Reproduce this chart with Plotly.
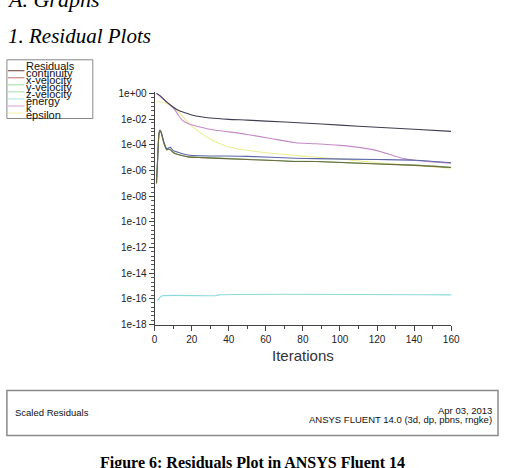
import plotly.graph_objects as go

W, H = 508, 468

# ---------------- data ----------------
series_names = ["continuity", "x-velocity", "y-velocity", "z-velocity", "energy", "k", "epsilon"]

it_cont = [1, 3, 6, 9, 12, 16, 20, 25, 30, 40, 50, 60, 80, 100, 120, 140, 160]
continuity = [1.0e0, 6.3e-1, 2.5e-1, 1.1e-1, 5.6e-2, 3.2e-2, 2.1e-2, 1.5e-2, 1.2e-2, 9.5e-3,
              8.3e-3, 6.9e-3, 5.0e-3, 3.4e-3, 2.3e-3, 1.6e-3, 1.1e-3]

it_k = [1, 3, 6, 9, 11, 13, 15, 19, 24, 32, 40, 50, 62, 76, 87, 100, 111, 120, 129, 135, 141, 150, 160]
k_res = [9.5e-1, 6.0e-1, 2.4e-1, 1.05e-1, 5.0e-2, 1.8e-2, 8.0e-3, 4.0e-3, 2.5e-3, 1.4e-3, 1.0e-3,
         6.3e-4, 3.2e-4, 1.45e-4, 1.2e-4, 8.9e-5, 6.0e-5, 3.5e-5, 1.4e-5, 8.0e-6, 5.9e-6, 4.6e-6, 3.7e-6]

it_eps = [1, 4, 6, 9, 12, 15, 19, 24, 30, 40, 50, 60, 80, 100, 120, 140, 160]
epsilon = [2.2e-1, 2.1e-1, 1.8e-1, 1.0e-1, 4.5e-2, 1.7e-2, 4.0e-3, 1.0e-3, 2.8e-4, 6.8e-5,
           3.7e-5, 2.4e-5, 1.3e-5, 7.9e-6, 4.0e-6, 2.5e-6, 1.5e-6]

it_vel = [1, 1.5, 2.3, 2.8, 3.5, 5, 6.5, 7.5, 8.5, 10, 12, 15, 18, 25, 50, 76, 87, 120, 141, 160]
z_velocity = [1.0e-7, 3.2e-6, 6.3e-4, 1.4e-3, 1.0e-3, 1.6e-4, 5.0e-5, 5.6e-5, 6.3e-5, 3.5e-5,
              2.8e-5, 2.0e-5, 1.6e-5, 1.4e-5, 1.26e-5, 8.9e-6, 8.3e-6, 7.1e-6, 6.3e-6, 4.0e-6]
x_velocity = [1.0e-7, 3.2e-6, 6.3e-4, 1.3e-3, 9.0e-4, 1.3e-4, 4.0e-5, 4.5e-5, 4.0e-5, 2.5e-5,
              1.8e-5, 1.4e-5, 1.15e-5, 1.0e-5, 7.1e-6, 5.0e-6, 5.0e-6, 3.2e-6, 2.5e-6, 1.7e-6]
y_velocity = [1.0e-7, 3.0e-6, 6.0e-4, 1.3e-3, 9.5e-4, 1.4e-4, 4.2e-5, 4.6e-5, 4.2e-5, 2.6e-5,
              1.9e-5, 1.45e-5, 1.2e-5, 1.05e-5, 7.4e-6, 5.2e-6, 5.0e-6, 3.3e-6, 2.6e-6, 1.8e-6]

it_en = [1, 2, 3, 4.4, 33, 35, 160]
energy = [8.0e-17, 9.0e-17, 1.4e-16, 1.8e-16, 1.8e-16, 2.1e-16, 2.1e-16]

y_tick_vals = [1e0, 1e-2, 1e-4, 1e-6, 1e-8, 1e-10, 1e-12, 1e-14, 1e-16, 1e-18]
y_tick_text = ["1e+00", "1e-02", "1e-04", "1e-06", "1e-08", "1e-10", "1e-12", "1e-14", "1e-16", "1e-18"]
x_tick_vals = [0, 20, 40, 60, 80, 100, 120, 140, 160]

colors = {
    "continuity": "#3e3e52",
    "x-velocity": "#6e6a3e",
    "y-velocity": "#86c486",
    "z-velocity": "#5a66a6",
    "energy": "#8adada",
    "k": "#c48ac8",
    "epsilon": "#ecec96",
}
legend_colors = {
    "continuity": "#6b3a30",
    "x-velocity": "#c07070",
    "y-velocity": "#a0d8a0",
    "z-velocity": "#a8d8b0",
    "energy": "#a8e6e6",
    "k": "#d8a0d8",
    "epsilon": "#f0f0a8",
}


def px(x):
    return x / W


def py(y):
    return 1 - y / H


fig = go.Figure()

traces = [
    ("energy", it_en, energy),
    ("epsilon", it_eps, epsilon),
    ("k", it_k, k_res),
    ("continuity", it_cont, continuity),
    ("y-velocity", it_vel, y_velocity),
    ("z-velocity", it_vel, z_velocity),
    ("x-velocity", it_vel, x_velocity),
]
for name, xs, ys in traces:
    fig.add_trace(go.Scatter(x=xs, y=ys, mode="lines", name=name,
                             line=dict(color=colors[name], width=1.1, shape="spline", smoothing=0.6),
                             showlegend=False, hoverinfo="skip"))

# minor ticks on log axis
minor_y = []
for e in range(-18, 1):
    for m in (2, 5):
        v = m * 10.0 ** e
        if v <= 1.2:
            minor_y.append(v)
    if e % 2 != 0:
        minor_y.append(10.0 ** e)

fig.update_layout(
    width=W, height=H,
    margin=dict(l=0, r=0, t=0, b=0),
    paper_bgcolor="white", plot_bgcolor="white",
    xaxis=dict(
        domain=[px(155.3), px(459)], range=[0, 160],
        tickvals=x_tick_vals, ticks="outside", ticklen=5, tickcolor="#444", tickwidth=1,
        showline=True, linecolor="#444", linewidth=1, showgrid=False, zeroline=False,
        tickfont=dict(family="Arial, Liberation Sans", size=10, color="#222"),
        minor=dict(tickvals=[10, 30, 50, 70, 90, 110, 130, 150], ticks="outside", ticklen=3,
                   tickcolor="#444", showgrid=False),
        title=dict(text="Iterations", font=dict(family="Arial, Liberation Sans", size=15, color="#333"),
                   standoff=6),
    ),
    yaxis=dict(
        type="log", domain=[py(327.7), py(90)], range=[-18, 0.1],
        tickvals=y_tick_vals, ticktext=y_tick_text, ticks="outside", ticklen=5, tickcolor="#444",
        showline=True, linecolor="#444", linewidth=1, showgrid=False, zeroline=False,
        tickfont=dict(family="Arial, Liberation Sans", size=10, color="#222"),
        minor=dict(tickvals=minor_y, ticks="outside", ticklen=3, tickcolor="#555", showgrid=False),
    ),
)

shapes = []
annotations = []

# legend box
shapes.append(dict(type="rect", xref="paper", yref="paper", x0=px(4), x1=px(92), y0=py(117), y1=py(57),
                   line=dict(color="#888", width=1), fillcolor="rgba(0,0,0,0)"))
rows = ["Residuals"] + series_names
for i, name in enumerate(rows):
    yc = 63.5 + 7.2 * i
    annotations.append(dict(xref="paper", yref="paper", x=px(22), y=py(yc), xanchor="left", yanchor="middle",
                            text=name, showarrow=False,
                            font=dict(family="Arial, Liberation Sans", size=11, color="#111")))
    if name in legend_colors:
        shapes.append(dict(type="line", xref="paper", yref="paper", x0=px(5), x1=px(22),
                           y0=py(yc - 2.5), y1=py(yc - 2.5),
                           line=dict(color=legend_colors[name], width=1)))

# bottom info box
shapes.append(dict(type="rect", xref="paper", yref="paper", x0=px(4), x1=px(507), y0=py(441), y1=py(395),
                   line=dict(color="#8a8a8a", width=1.5), fillcolor="rgba(0,0,0,0)"))
annotations.append(dict(xref="paper", yref="paper", x=px(10), y=py(417), xanchor="left", yanchor="middle",
                        text="Scaled Residuals", showarrow=False,
                        font=dict(family="Arial, Liberation Sans", size=9.5, color="#111")))
annotations.append(dict(xref="paper", yref="paper", x=px(503), y=py(415.5), xanchor="right", yanchor="middle",
                        text="Apr 03, 2013", showarrow=False,
                        font=dict(family="Arial, Liberation Sans", size=9.5, color="#111")))
annotations.append(dict(xref="paper", yref="paper", x=px(503), y=py(425), xanchor="right", yanchor="middle",
                        text="ANSYS FLUENT 14.0 (3d, dp, pbns, rngke)", showarrow=False,
                        font=dict(family="Arial, Liberation Sans", size=9.5, color="#111")))

# document text around the figure
annotations.append(dict(xref="paper", yref="paper", x=px(2), y=py(-5), xanchor="left", yanchor="middle",
                        text="<i>A. Graphs</i>", showarrow=False,
                        font=dict(family="Liberation Serif, Times New Roman", size=22, color="#000")))
annotations.append(dict(xref="paper", yref="paper", x=px(3), y=py(33), xanchor="left", yanchor="middle",
                        text="<i>1. Residual Plots</i>", showarrow=False,
                        font=dict(family="Liberation Serif, Times New Roman", size=21, color="#000")))
annotations.append(dict(xref="paper", yref="paper", x=px(256), y=py(469.5), xanchor="center", yanchor="middle",
                        text="<b>Figure 6: Residuals Plot in ANSYS Fluent 14</b>", showarrow=False,
                        font=dict(family="Liberation Serif, Times New Roman", size=16, color="#000")))

fig.update_layout(shapes=shapes, annotations=annotations)

fig.write_html("out.html",
               post_script="document.body.style.margin='0';document.documentElement.style.overflow='hidden';")
